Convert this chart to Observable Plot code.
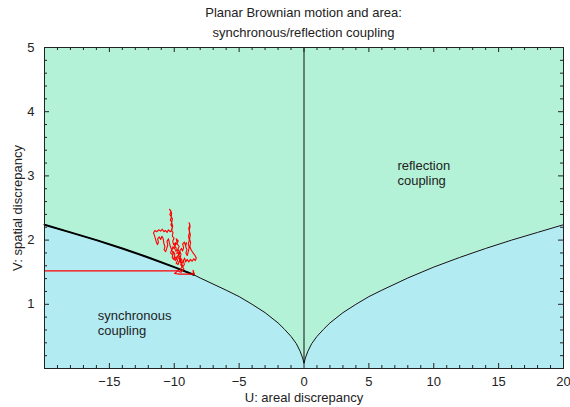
<!DOCTYPE html>
<html><head><meta charset="utf-8">
<script src="https://cdn.jsdelivr.net/npm/d3@7"></script>
<script src="https://cdn.jsdelivr.net/npm/@observablehq/plot@0.6"></script>
<style>
body{margin:0;background:#fff;font-family:"Liberation Sans",Arial,sans-serif;}
#title{width:570px;height:40px;position:relative;}
#title div{position:absolute;left:44px;width:519px;text-align:center;font-size:13px;color:#222;line-height:15px}
#chart svg{display:block}
</style></head><body>
<div id="title"><div style="top:5px">Planar Brownian motion and area:</div><div style="top:25px">synchronous/reflection coupling</div></div>
<div id="chart"></div>
<script>
// boundary curve between the two coupling regions
const curveU = [-20,-18,-16,-14,-12,-10,-8.5,-8,-6,-5,-4,-3,-2,-1.5,-1,-0.6,-0.3,-0.1,0,0.1,0.3,0.6,1,1.5,2,3,4,5,6,8,10,12,14,16,18,20];
const curveV = [2.24,2.12,2.0,1.87,1.73,1.58,1.46,1.41,1.22,1.12,1.0,0.87,0.71,0.61,0.5,0.39,0.27,0.16,0.08,0.16,0.27,0.39,0.5,0.61,0.71,0.87,1.0,1.12,1.22,1.41,1.58,1.73,1.87,2.0,2.12,2.24];
// horizontal red segment
const lineU = [-20,-9.65];
const lineV = [1.52,1.52];
// Brownian trajectory (red scribble)
const pathU = [-9.45,-9.52,-9.40,-9.50,-9.36,-9.44,-9.60,-9.55,-9.70,-9.62,-9.80,-9.75,-9.90,-9.85,-9.98,-9.90,-10.05,-10.12,-10.02,-10.15,-10.10,
 -10.22,-10.15,-10.26,-10.18,-10.30,-10.22,-10.34,-10.26,-10.36,-10.28,-10.20,-10.24,-10.14,-10.20,-10.12,-10.18,-10.30,
 -10.45,-10.55,-10.68,-10.80,-10.92,-11.05,-11.20,-11.35,-11.50,-11.60,-11.52,-11.45,-11.38,-11.30,-11.22,-11.28,-11.15,-11.05,-10.95,-10.85,-10.80,-10.72,-10.78,-10.66,-10.58,-10.50,-10.56,-10.44,-10.38,-10.30,
 -10.20,-10.28,-10.14,-10.05,-9.95,-10.02,-9.92,-9.82,-9.75,-9.85,-9.70,-9.62,-9.55,-9.48,-9.58,-9.45,-9.36,-9.28,-9.35,-9.22,-9.14,-9.06,-9.12,-9.02,-9.10,-9.00,
 -8.92,-8.85,-8.92,-8.84,-8.90,-8.82,-8.88,-8.80,-8.86,-8.78,-8.84,-8.76,-8.82,-8.74,-8.80,-8.70,
 -8.55,-8.40,-8.30,-8.38,-8.50,-8.62,-8.75,-8.88,-9.00,-9.12,-9.20,-9.30,-9.22,-9.35,
 -9.40,-9.55,-9.48,-9.65,-9.58,-9.72,-9.62,-9.78,-9.70,-9.85,-9.78,-9.92,-10.00,-10.10,-10.18,-10.08,-10.16,-10.05,-9.95,-9.85,-9.78,-9.66,-9.52,-9.44,-9.35,
 -9.25,-9.40,-9.55,-9.70,-9.85,-9.98,-9.60,-9.20,-8.80,-8.52,-8.55,-8.45];
const pathV = [1.50,1.55,1.58,1.62,1.65,1.70,1.68,1.74,1.76,1.81,1.79,1.85,1.83,1.88,1.91,1.96,1.93,1.98,2.03,2.06,2.12,
 2.15,2.20,2.24,2.28,2.31,2.36,2.40,2.44,2.48,2.46,2.42,2.37,2.33,2.27,2.22,2.16,2.13,
 2.16,2.12,2.15,2.13,2.17,2.14,2.16,2.13,2.15,2.11,2.07,2.02,1.97,1.93,1.96,2.02,2.05,2.01,2.06,2.02,1.95,1.90,1.85,1.82,1.87,1.92,1.98,2.02,1.96,1.90,
 1.85,1.80,1.77,1.82,1.78,1.72,1.68,1.73,1.68,1.64,1.62,1.67,1.72,1.78,1.83,1.87,1.83,1.88,1.94,1.97,1.92,1.96,1.90,1.85,1.80,1.76,
 1.82,1.88,1.94,2.00,2.06,2.12,2.18,2.24,2.27,2.22,2.15,2.08,2.02,1.96,1.90,1.85,
 1.80,1.76,1.72,1.68,1.71,1.67,1.70,1.66,1.70,1.66,1.72,1.68,1.62,1.58,
 1.62,1.66,1.72,1.75,1.80,1.86,1.90,1.94,1.99,2.02,1.96,1.92,1.86,1.90,1.84,1.79,1.73,1.70,1.74,1.70,1.75,1.72,1.68,1.64,1.58,
 1.55,1.52,1.50,1.53,1.50,1.48,1.47,1.47,1.47,1.47,1.53,1.47];
// region labels
const regionText = ["reflection\ncoupling","synchronous\ncoupling"];
const regionU = [7.2,-15.9];
const regionV = [3.05,0.71];
// tick labels
const xTickLabels = [-15,-10,-5,0,5,10,15,20];
const yTickLabels = [1,2,3,4,5];

const mint = "#b3f2d6", cyan = "#b3ebf2";
const curve = curveU.map((u,i)=>({u, v:curveV[i]}));
const hline = lineU.map((u,i)=>({u, v:lineV[i]}));
const path = pathU.map((u,i)=>({u, v:pathV[i]}));
const regions = regionText.map((t,i)=>({t, u:regionU[i], v:regionV[i]}));
const xMajor = [-15,-10,-5,0,5,10,15];
const xMinor = d3.range(-19,20).filter(d=>d%5!==0);
const yMajor = [1,2,3,4];
const yMinor = d3.range(1,25).map(d=>+(d*0.2).toFixed(1)).filter(d=>Math.abs(d-Math.round(d))>1e-6);

const W=570, H=367, mT=7, mB=39, mL=44, mR=7;
const fh = H-mT-mB, fw = W-mL-mR;

const chart = Plot.plot({
  width:W, height:H, marginTop:mT, marginBottom:mB, marginLeft:mL, marginRight:mR,
  x:{domain:[-20,20]}, y:{domain:[0,5]},
  style:{fontFamily:"Liberation Sans, Arial, sans-serif", fontSize:"13px", color:"#222", background:"#fff"},
  marks:[
    Plot.areaY(curve,{x:"u", y1:0, y2:"v", fill:cyan}),
    Plot.areaY(curve,{x:"u", y1:"v", y2:5, fill:mint}),
    Plot.line(curve,{x:"u", y:"v", stroke:"#111", strokeWidth:1}),
    Plot.line(curve.filter(d=>d.u<=-8.5),{x:"u", y:"v", stroke:"#000", strokeWidth:2}),
    Plot.ruleX([0],{y1:0.08, y2:5, stroke:"#111"}),
    Plot.line(hline,{x:"u", y:"v", stroke:"#f00", strokeWidth:1.3}),
    Plot.line(path,{x:"u", y:"v", stroke:"#f00", strokeWidth:1.1}),
    Plot.text(regions,{x:"u", y:"v", text:"t", textAnchor:"start", lineHeight:1.15, fill:"#222", fontSize:13}),
    // inward ticks
    Plot.tickX(xMajor,{x:d=>d, insetTop:fh-5, stroke:"#222"}),
    Plot.tickX(xMinor,{x:d=>d, insetTop:fh-3, stroke:"#222"}),
    Plot.tickX(xMajor,{x:d=>d, insetBottom:fh-5, stroke:"#222"}),
    Plot.tickX(xMinor,{x:d=>d, insetBottom:fh-3, stroke:"#222"}),
    Plot.tickY(yMajor,{y:d=>d, insetRight:fw-5, stroke:"#222"}),
    Plot.tickY(yMinor,{y:d=>d, insetRight:fw-3, stroke:"#222"}),
    Plot.tickY(yMajor,{y:d=>d, insetLeft:fw-5, stroke:"#222"}),
    Plot.tickY(yMinor,{y:d=>d, insetLeft:fw-3, stroke:"#222"}),
    Plot.frame({stroke:"#222"}),
    Plot.axisX(xTickLabels,{anchor:"bottom", tickSize:0, tickPadding:8, label:"U: areal discrepancy", labelAnchor:"center", labelOffset:33, labelArrow:"none"}),
    Plot.axisY(yTickLabels,{anchor:"left", tickSize:0, tickPadding:10, tickFormat:d3.format("d"), label:"V: spatial discrepancy", labelAnchor:"center", labelOffset:32, labelArrow:"none"})
  ]
});
document.getElementById("chart").appendChild(chart);
</script>
</body></html>
